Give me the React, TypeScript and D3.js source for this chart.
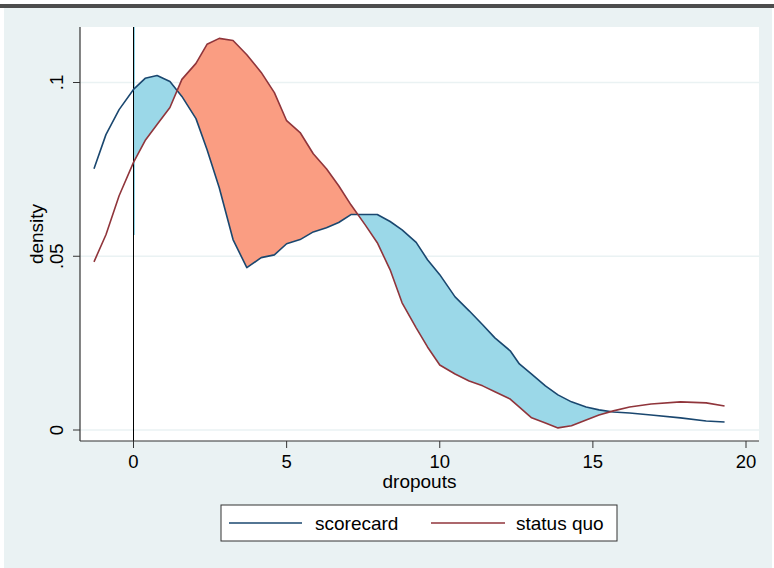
import * as d3 from "d3";
import React from "react";

// kernel density estimates
const xs = [-1.29, -0.9, -0.47, 0, 0.38, 0.77, 1.19, 1.58, 2.04, 2.4, 2.8, 3.25, 3.7, 4.17, 4.6, 5.0, 5.44, 5.87, 6.3, 6.7, 7.1, 7.56, 7.96, 8.38, 8.77, 9.23, 9.6, 10.0, 10.5, 10.96, 11.4, 11.8, 12.3, 12.6, 13.0, 13.45, 13.86, 14.3, 14.78, 15.2, 15.67, 16.2, 16.9, 17.86, 18.7, 19.3];
const scorecard = [.0752, .085, .0922, .098, .1012, .102, .1003, .096, .0896, .0807, .0697, .0548, .0467, .0496, .0504, .0536, .0548, .057, .0582, .0597, .062, .062, .062, .06, .0576, .054, .049, .0447, .0383, .0343, .0303, .0265, .0228, .019, .0161, .0127, .0101, .0081, .0066, .0058, .0052, .0049, .0043, .0035, .0026, .0023];
const statusQuo = [.0484, .0562, .0674, .077, .0833, .0879, .0928, .1009, .1055, .111, .1127, .1121, .108, .1029, .0971, .089, .0856, .0795, .0752, .0703, .0648, .0591, .0539, .0461, .0366, .0294, .0239, .0187, .0161, .0141, .0127, .011, .0089, .0066, .0035, .002, .0006, .0012, .0029, .0043, .0055, .0066, .0075, .0081, .0078, .0069];

const xTicks = [0, 5, 10, 15, 20];
const yTicks = [0, 0.05, 0.1];
const yTickLabels = ["0", ".05", ".1"];
const FILL_FROM = 0;
const FILL_TO = 15.6;

const NAVY = "#1a476f";
const MAROON = "#90353b";
const BG = "#eaf2f3";

type P = { x: number; a: number; b: number };

// points between FILL_FROM and FILL_TO, with crossings inserted
function fillPoints(): P[] {
  const out: P[] = [];
  for (let i = 0; i < xs.length - 1; i++) {
    const x0 = xs[i], x1 = xs[i + 1];
    const seg = (t: number): P => ({
      x: x0 + (x1 - x0) * t,
      a: scorecard[i] + (scorecard[i + 1] - scorecard[i]) * t,
      b: statusQuo[i] + (statusQuo[i + 1] - statusQuo[i]) * t,
    });
    const ts = [0];
    const d0 = scorecard[i] - statusQuo[i], d1 = scorecard[i + 1] - statusQuo[i + 1];
    if (d0 * d1 < 0) ts.push(d0 / (d0 - d1));
    if (x0 < FILL_FROM && x1 > FILL_FROM) ts.push((FILL_FROM - x0) / (x1 - x0));
    if (x0 < FILL_TO && x1 > FILL_TO) ts.push((FILL_TO - x0) / (x1 - x0));
    ts.sort((p, q) => p - q);
    ts.forEach((t) => {
      const p = seg(t);
      if (p.x >= FILL_FROM - 1e-9 && p.x <= FILL_TO + 1e-9) out.push(p);
    });
  }
  return out;
}

export default function App() {
  const W = 774, H = 568;
  const left = 80, right = 759, top = 27, bottom = 441;

  const x = d3.scaleLinear().domain([0, 20]).range([133.5, 746]);
  const y = d3.scaleLinear().domain([0, 0.1]).range([430, 82.5]);

  const pts = fillPoints();
  const blue = d3.area<P>()
    .x((d) => x(d.x))
    .y0((d) => y(d.b))
    .y1((d) => y(Math.max(d.a, d.b)));
  const salmon = d3.area<P>()
    .x((d) => x(d.x))
    .y0((d) => y(d.a))
    .y1((d) => y(Math.max(d.a, d.b)));

  const line = d3.line<number>()
    .x((_, i) => x(xs[i]))
    .y((d) => y(d));

  const font = "Arial, 'Liberation Sans', sans-serif";

  return (
    <svg width={W} height={H} style={{ position: "absolute", left: 0, top: 0 }} fontFamily={font}>
      <rect x={0} y={0} width={W} height={H} fill="#ffffff" />
      <rect x={0} y={4} width={W} height={4} fill="#4d4d4d" />
      <rect x={4} y={8} width={W - 6} height={H - 8} fill={BG} />
      <rect x={left} y={top} width={right - left} height={bottom - top} fill="#ffffff" />

      {yTicks.map((t) => (
        <line key={t} x1={left} x2={right} y1={y(t)} y2={y(t)} stroke={BG} strokeWidth={1.5} />
      ))}

      <path d={blue(pts) || ""} fill="#9bd8e8" />
      <path d={salmon(pts) || ""} fill="#fa9d82" />

      <line x1={x(0) + 1} x2={x(0) + 1} y1={top} y2={235} stroke="#8fd3e6" strokeWidth={1} />
      <line x1={x(0)} x2={x(0)} y1={top} y2={bottom + 7} stroke="#000" strokeWidth={1} />

      <path d={line(scorecard) || ""} fill="none" stroke={NAVY} strokeWidth={1.6} strokeLinejoin="round" />
      <path d={line(statusQuo) || ""} fill="none" stroke={MAROON} strokeWidth={1.6} strokeLinejoin="round" />

      {/* axes */}
      <line x1={left} x2={left} y1={top} y2={bottom} stroke="#333" strokeWidth={1.2} />
      <line x1={left} x2={right} y1={bottom} y2={bottom} stroke="#333" strokeWidth={1.2} />
      {yTicks.map((t, i) => (
        <g key={t}>
          <line x1={left - 7} x2={left} y1={y(t)} y2={y(t)} stroke="#333" strokeWidth={1} />
          <text transform={`translate(63,${y(t)}) rotate(-90)`} textAnchor="middle" fontSize={18.5} fill="#000">
            {yTickLabels[i]}
          </text>
        </g>
      ))}
      {xTicks.map((t) => (
        <g key={t}>
          <line x1={x(t)} x2={x(t)} y1={bottom} y2={bottom + 7} stroke="#333" strokeWidth={1} />
          <text x={x(t)} y={468} textAnchor="middle" fontSize={18.5} fill="#000">{t}</text>
        </g>
      ))}
      <text x={(left + right) / 2} y={488} textAnchor="middle" fontSize={19} fill="#000">dropouts</text>
      <text transform={`translate(43,${(top + bottom) / 2}) rotate(-90)`} textAnchor="middle" fontSize={19} fill="#000">density</text>

      {/* legend */}
      <rect x={221} y={505} width={396} height={36} fill="#fff" stroke="#333" strokeWidth={1} />
      <line x1={229} x2={302} y1={523} y2={523} stroke={NAVY} strokeWidth={1.6} />
      <text x={315} y={529.5} fontSize={19} fill="#000">scorecard</text>
      <line x1={431} x2={505} y1={523} y2={523} stroke={MAROON} strokeWidth={1.6} />
      <text x={516} y={529.5} fontSize={19} fill="#000">status quo</text>
    </svg>
  );
}
